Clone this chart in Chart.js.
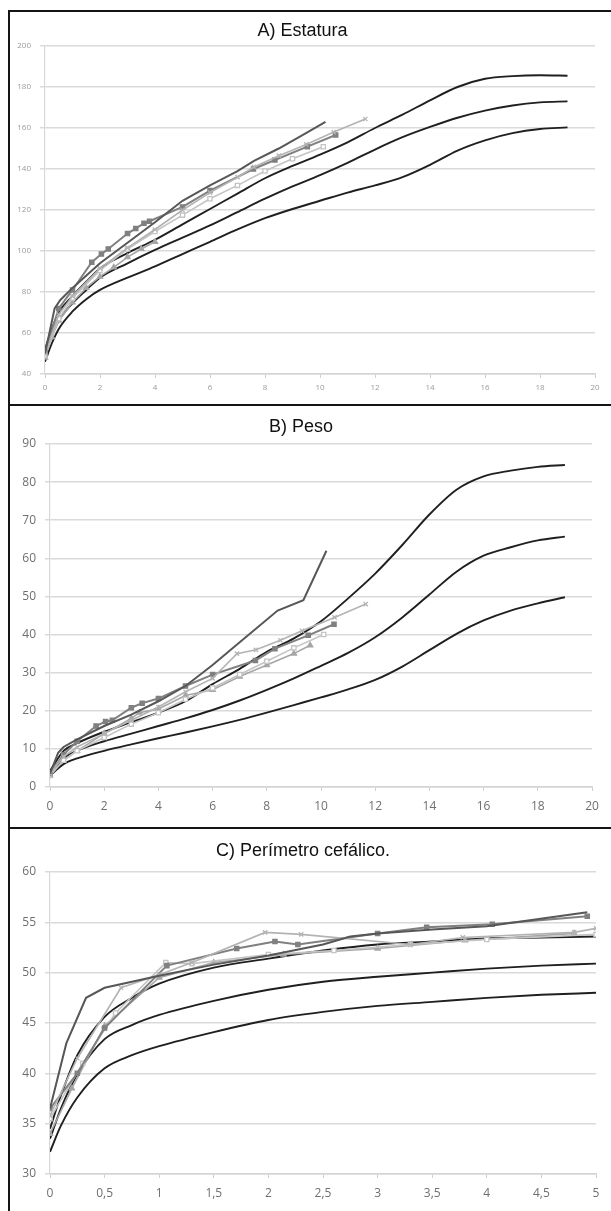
<!DOCTYPE html>
<html>
<head>
<meta charset="utf-8">
<script src="https://cdn.jsdelivr.net/npm/chart.js@4/dist/chart.umd.min.js"></script>
<style>
	body { margin: 0; background: #fff; width: 611px; height: 1211px; overflow: hidden; position: relative; }
	.rule { position: absolute; background: #151515; }
	.panel { position: absolute; left: 10px; width: 601px; }
</style>
</head>
<body>
<div class="rule" style="left:8px;top:10px;width:2px;height:1201px"></div>
<div class="rule" style="left:8px;top:10px;width:603px;height:2px"></div>
<div class="rule" style="left:8px;top:404px;width:603px;height:2px"></div>
<div class="rule" style="left:8px;top:827px;width:603px;height:2px"></div>

<div class="panel" style="top:12px;height:392px"><canvas id="chartA"></canvas></div>
<div class="panel" style="top:406px;height:421px"><canvas id="chartB"></canvas></div>
<div class="panel" style="top:829px;height:382px"><canvas id="chartC"></canvas></div>

<script>
// A) Estatura - reference curves
const edadRefA = [0, 0.25, 0.5, 1, 1.5, 2, 3, 4, 5, 6, 7, 8, 9, 10, 11, 12, 13, 14, 15, 16, 17, 18, 19];
const tallaAlta = [52, 62, 70, 78, 85, 91.5, 99, 105.5, 113, 120.5, 128, 135.5, 141.5, 147, 153, 160, 166.5, 173.5, 180, 184, 185.3, 185.7, 185.5];
const tallaMedia = [49.5, 59, 66, 74.5, 81, 87, 94, 100.5, 106.5, 112.5, 119, 125.5, 131.5, 137, 143, 149.5, 155.5, 160.5, 165, 168.5, 171, 172.5, 173];
const tallaBaja = [46, 55, 62, 70.5, 76.5, 81, 87, 92.5, 98.5, 104.5, 110.5, 116, 120.5, 124.5, 128.5, 132, 136, 142, 149, 154, 157.5, 159.5, 160.3];

// A) Estatura - patients
const p1EdadA = [0, 0.35, 0.55, 1, 2, 3, 4, 5, 6, 7, 7.6, 8.5, 9.3, 10.2];
const p1TallaA = [50, 72, 76, 82, 94, 104, 114, 124.5, 132, 139, 144, 150, 156, 163];
const p2EdadA = [0, 0.5, 1, 2, 3, 4, 5, 6, 7, 7.6, 8.5, 9.5, 10.5, 11.65];
const p2TallaA = [49.5, 69, 78, 91.5, 101.5, 110.5, 120, 128.5, 136, 141, 146.5, 152, 158, 164.4];
const p3EdadA = [0, 0.5, 1, 1.7, 2.05, 2.3, 3, 3.3, 3.6, 3.8, 5, 6, 7.58, 8.36, 9.54, 10.57];
const p3TallaA = [51, 72, 81, 94.5, 98.5, 101, 108.5, 111, 113.5, 114.5, 121.5, 129.5, 140, 144.4, 150.9, 156.6];
const p4EdadA = [0, 0.5, 1, 2, 3, 4, 5, 6, 7, 8, 9, 10.12];
const p4TallaA = [49, 67, 77, 90.5, 101, 109.5, 117.5, 125.5, 132, 139, 145, 150.9];
const p5EdadA = [0, 0.25, 0.5, 1, 1.5, 2, 2.5, 3, 3.5, 4];
const p5TallaA = [48, 58, 66, 75, 82, 87.5, 92, 97, 101, 104.5];

// B) Peso - reference curves
const edadRefB = [0, 0.5, 1, 2, 3, 4, 5, 6, 7, 8, 9, 10, 11, 12, 13, 14, 15, 16, 17, 18, 19];
const pesoAlto = [4.2, 9.5, 11.5, 14.5, 17, 19.5, 22.5, 27, 31, 35.5, 39, 43.5, 49.5, 56, 63.5, 71.5, 78, 81.5, 83, 84, 84.5];
const pesoMedio = [3.5, 7.5, 9.5, 12, 14, 16, 18, 20.2, 22.7, 25.5, 28.5, 31.8, 35.2, 39.3, 44.5, 50.5, 56.5, 60.7, 62.9, 64.7, 65.7];
const pesoBajo = [3, 6, 7.5, 9.5, 11.2, 12.8, 14.3, 15.9, 17.6, 19.5, 21.5, 23.5, 25.6, 28.1, 31.6, 35.9, 40.2, 43.7, 46.3, 48.2, 49.8];

// B) Peso - patients
const p1EdadB = [0, 0.3, 0.5, 1, 2, 3, 4, 5, 6, 7, 8.4, 9.35, 10.2];
const p1PesoB = [3.5, 9, 10.5, 12.5, 16, 19, 22.5, 26.5, 32, 38, 46.3, 49, 62];
const p2EdadB = [0, 0.5, 1, 2, 3, 4, 5, 6, 6.9, 7.6, 8.5, 9.3, 10.5, 11.65];
const p2PesoB = [3.5, 8, 10.5, 14, 17.5, 21, 25, 28.5, 35, 36, 38.5, 41, 44.5, 48];
const p3EdadB = [0, 0.5, 1, 1.7, 2.05, 2.3, 3, 3.4, 4, 5, 6, 7.58, 8.3, 9.53, 10.48];
const p3PesoB = [3.5, 8.5, 12, 16, 17.2, 17.5, 20.8, 22, 23.2, 26.5, 29.5, 33.2, 36.3, 39.8, 42.7];
const p4EdadB = [0, 0.5, 1, 2, 3, 4, 5, 6, 7, 8, 9, 10.1];
const p4PesoB = [3, 7, 9.5, 13, 16.5, 19.5, 23, 26, 29.5, 33, 36.5, 40];
const p5EdadB = [0, 0.5, 1, 2, 3, 3.3, 4, 5, 6, 7, 8, 9, 9.6];
const p5PesoB = [3, 7, 9.5, 14, 18, 19.5, 20.5, 24, 25.5, 29, 32, 35, 37.2];

// C) Perimetro cefalico - reference curves
const edadRefC = [0, 0.1, 0.25, 0.5, 0.75, 1, 1.5, 2, 2.5, 3, 3.5, 4, 4.5, 5];
const pcAlto = [34.5, 37.8, 41.8, 45.6, 47.5, 48.9, 50.5, 51.4, 52.2, 52.8, 53.1, 53.4, 53.5, 53.6];
const pcMedio = [33.5, 36.5, 39.9, 43.4, 44.8, 45.8, 47.2, 48.3, 49.1, 49.6, 50, 50.4, 50.7, 50.9];
const pcBajo = [32.2, 34.8, 37.6, 40.5, 41.8, 42.7, 44.1, 45.3, 46.1, 46.7, 47.1, 47.5, 47.8, 48];

// C) Perimetro cefalico - patients
const p1EdadC = [0, 0.15, 0.33, 0.5, 1, 1.5, 2, 2.5, 2.75, 3, 3.5, 4, 4.92];
const p1PcC = [36.5, 43, 47.5, 48.5, 49.7, 50.8, 51.7, 52.8, 53.6, 53.9, 54.3, 54.6, 56];
const p2EdadC = [0, 0.25, 0.65, 1, 1.3, 1.97, 2.3, 3.3, 3.78, 4.8, 5];
const p2PcC = [35.8, 41.5, 48.5, 49.8, 51, 54, 53.8, 52.8, 53.5, 54, 54.4];
const p3EdadC = [0, 0.25, 0.5, 1.07, 1.71, 2.06, 2.27, 3, 3.45, 4.05, 4.92];
const p3PcC = [36.5, 40, 44.5, 50.7, 52.4, 53.1, 52.8, 53.9, 54.5, 54.8, 55.6];
const p4EdadC = [0, 0.3, 0.6, 1.06, 1.3, 2, 2.6, 3.3, 4, 5];
const p4PcC = [35.5, 41, 46, 51, 50.9, 51.8, 52.2, 52.8, 53.3, 53.8];
const p5EdadC = [0, 0.2, 0.5, 1, 1.5, 2.14, 3, 3.8, 4.8];
const p5PcC = [34, 38.5, 44.7, 49.5, 51, 51.8, 52.4, 53.2, 53.9];

// patient line styles (same patient, same look in every panel)
const estilos = [
	{ color: "#575757", width: 2, point: false, radius: 0 },
	{ color: "#b3b3b3", width: 1.6, point: "crossRot", radius: 3 },
	{ color: "#808080", width: 2, point: "rect", radius: 3 },
	{ color: "#c4c4c4", width: 1.6, point: "rect", radius: 3, hollow: true },
	{ color: "#a6a6a6", width: 1.6, point: "triangle", radius: 3 }
];

function puntos(xs, ys) {
	return xs.map(function (x, i) { return { x: x, y: ys[i] }; });
}

function referencia(xs, ys) {
	return {
		data: puntos(xs, ys),
		borderColor: "#1f1f1f",
		borderWidth: 1.9,
		pointRadius: 0,
		cubicInterpolationMode: "monotone"
	};
}

function paciente(xs, ys, n) {
	const e = estilos[n];
	return {
		data: puntos(xs, ys),
		borderColor: e.color,
		borderWidth: e.width,
		pointStyle: e.point,
		pointRadius: e.radius,
		pointBorderColor: e.color,
		pointBackgroundColor: e.hollow ? "#fff" : e.color,
		pointBorderWidth: 1.3,
		tension: 0
	};
}

function grafica(id, titulo, datasets, cfg) {
	new Chart(document.getElementById(id), {
		type: "line",
		data: { datasets: datasets },
		options: {
			animation: false,
			responsive: true,
			maintainAspectRatio: false,
			layout: { padding: { left: 0, right: cfg.padRight, top: 0, bottom: 0 } },
			plugins: {
				legend: { display: false },
				tooltip: { enabled: false },
				title: {
					display: true,
					text: titulo,
					color: "#111",
					font: { family: "Liberation Sans, Arial, sans-serif", size: 18, weight: "normal" },
					padding: { top: cfg.titleTop, bottom: cfg.titleBottom }
				}
			},
			scales: {
				x: {
					type: "linear",
					min: cfg.xMin, max: cfg.xMax,
					afterFit: function (s) { s.height = cfg.xHeight; },
					ticks: {
						stepSize: cfg.xStep,
						color: cfg.tickColor,
						padding: cfg.xPad,
						maxRotation: 0,
						font: { family: "Open Sans, Liberation Sans, sans-serif", size: cfg.fontSize },
						callback: function (v) { return String(v).replace(".", ","); }
					},
					grid: { drawOnChartArea: false, color: "#cfcfcf", tickLength: 4 },
					border: { color: "#d4d4d4", width: 1.5 }
				},
				y: {
					min: cfg.yMin, max: cfg.yMax,
					afterFit: function (s) { s.width = cfg.yWidth; },
					ticks: {
						stepSize: cfg.yStep,
						color: cfg.tickColor,
						padding: cfg.yPad,
						font: { family: "Open Sans, Liberation Sans, sans-serif", size: cfg.fontSize }
					},
					grid: { color: "#dadada", lineWidth: 1.5, tickLength: 5 },
					border: { color: "#d8d8d8", width: 1.2 }
				}
			}
		}
	});
}

grafica("chartA", "A) Estatura", [
	paciente(p1EdadA, p1TallaA, 0),
	paciente(p2EdadA, p2TallaA, 1),
	paciente(p3EdadA, p3TallaA, 2),
	paciente(p4EdadA, p4TallaA, 3),
	paciente(p5EdadA, p5TallaA, 4),
	referencia(edadRefA, tallaAlta),
	referencia(edadRefA, tallaMedia),
	referencia(edadRefA, tallaBaja)
], {
	xMin: 0, xMax: 20, xStep: 2, yMin: 40, yMax: 200, yStep: 20,
	xHeight: 30, yWidth: 35, padRight: 16, titleTop: 8, titleBottom: 4.4,
	fontSize: 8, tickColor: "#9a9a9a", xPad: 5, yPad: 9
});

grafica("chartB", "B) Peso", [
	paciente(p1EdadB, p1PesoB, 0),
	paciente(p2EdadB, p2PesoB, 1),
	paciente(p3EdadB, p3PesoB, 2),
	paciente(p4EdadB, p4PesoB, 3),
	paciente(p5EdadB, p5PesoB, 4),
	referencia(edadRefB, pesoAlto),
	referencia(edadRefB, pesoMedio),
	referencia(edadRefB, pesoBajo)
], {
	xMin: 0, xMax: 20, xStep: 2, yMin: 0, yMax: 90, yStep: 10,
	xHeight: 40, yWidth: 40, padRight: 19, titleTop: 10, titleBottom: 6.4,
	fontSize: 12, tickColor: "#6f6f6f", xPad: 8, yPad: 9
});

grafica("chartC", "C) Perímetro cefálico.", [
	paciente(p1EdadC, p1PcC, 0),
	paciente(p2EdadC, p2PcC, 1),
	paciente(p3EdadC, p3PcC, 2),
	paciente(p4EdadC, p4PcC, 3),
	paciente(p5EdadC, p5PcC, 4),
	referencia(edadRefC, pcAlto),
	referencia(edadRefC, pcMedio),
	referencia(edadRefC, pcBajo)
], {
	xMin: 0, xMax: 5, xStep: 0.5, yMin: 30, yMax: 60, yStep: 5,
	xHeight: 37, yWidth: 40, padRight: 15, titleTop: 11, titleBottom: 10.4,
	fontSize: 12, tickColor: "#6f6f6f", xPad: 8, yPad: 9
});
</script>
</body>
</html>
